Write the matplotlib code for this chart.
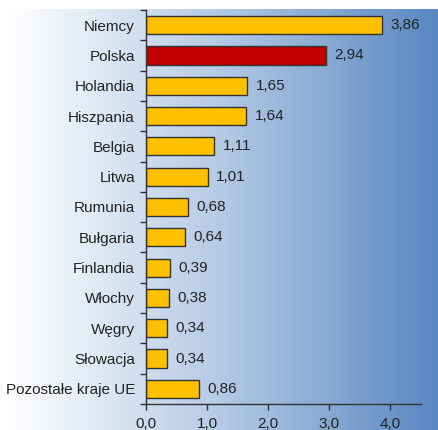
import numpy as np
import matplotlib.pyplot as plt
from matplotlib.colors import LinearSegmentedColormap

plt.rcParams['font.family'] = ['Liberation Sans', 'DejaVu Sans']

countries = ['Niemcy', 'Polska', 'Holandia', 'Hiszpania', 'Belgia', 'Litwa',
             'Rumunia', 'Bułgaria', 'Finlandia', 'Włochy', 'Węgry', 'Słowacja',
             'Pozostałe kraje UE']
values = [3.86, 2.94, 1.65, 1.64, 1.11, 1.01, 0.68, 0.64, 0.39, 0.38, 0.34,
          0.34, 0.86]
highlight = 'Polska'

fig = plt.figure(figsize=(4.39, 4.30), dpi=100)

# horizontal white -> blue backdrop
bg = fig.add_axes([0.018, 0, 0.982, 0.979])
bg.set_axis_off()
cmap = LinearSegmentedColormap.from_list('bg', ['#ffffff', '#b3c9e4', '#5886c1'])
bg.imshow(np.linspace(0, 1, 256)[None, :], aspect='auto', cmap=cmap,
          extent=[0, 1, 0, 1])

# title sits above the canvas, only its descenders peek in
fig.text(0.5, 1.0095, 'Eksport mięsa drobiowego w grupie państw', ha='center',
         va='baseline', fontsize=15, fontweight='bold', color='#2b4f86')

ax = fig.add_axes([146 / 439, 26 / 430, 275 / 439, 394 / 430])
ax.patch.set_alpha(0)

y = np.arange(len(countries))
colors = ['#c00000' if c == highlight else '#ffc000' for c in countries]
ax.barh(y, values, height=0.6, color=colors, edgecolor='#333333', linewidth=1)
for yi, v in zip(y, values):
    ax.text(v + 0.14, yi, f'{v:.2f}'.replace('.', ','), va='center',
            ha='left', fontsize=11, color='#222222')

ax.set_xlim(0, 4.5)
ax.set_ylim(len(countries) - 0.5, -0.5)
ax.set_yticks(y)
ax.set_yticklabels(countries, fontsize=11, color='#222222')
ax.set_yticks(np.arange(len(countries) + 1) - 0.5, minor=True)
ax.tick_params(axis='y', which='major', length=0, pad=8)
ax.tick_params(axis='y', which='minor', length=4, width=1, color='#333333')
ax.set_xticks([0, 1, 2, 3, 4])
ax.set_xticklabels(['0,0', '1,0', '2,0', '3,0', '4,0'], fontsize=11,
                   color='#222222')
ax.tick_params(axis='x', length=4, width=1, color='#333333', pad=5)
for s in ['top', 'right']:
    ax.spines[s].set_visible(False)
for s in ['left', 'bottom']:
    ax.spines[s].set_color('#333333')
    ax.spines[s].set_linewidth(1)

fig.savefig('out.png', dpi=100)
